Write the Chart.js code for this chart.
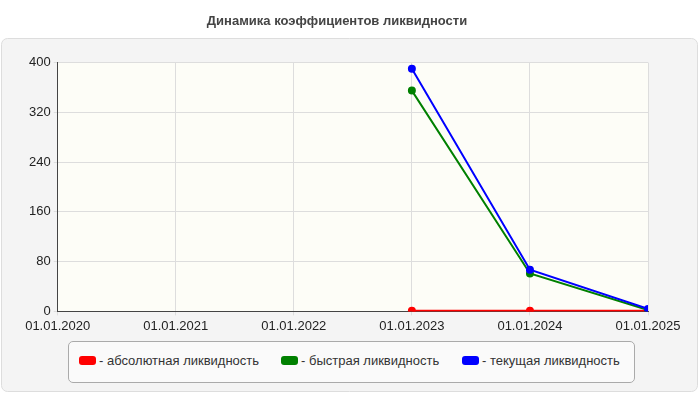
<!DOCTYPE html>
<html><head><meta charset="utf-8">
<script src="https://cdn.jsdelivr.net/npm/chart.js@4"></script>
<style>
body{margin:0;background:#fff;font-family:"Liberation Sans",Arial,sans-serif}
#wrap{position:relative;width:700px;height:400px}
#leg{position:absolute;left:68px;top:341px;width:565px;height:40px;border:1px solid #aaa;border-radius:5px;background:#fafafa;font-size:13px;color:#333}
.it{position:absolute;top:11px;display:flex;align-items:center}
.sw{width:17px;height:9px;border-radius:3px;margin-right:3px}
</style></head><body>
<div id="wrap"><canvas id="c" width="700" height="400"></canvas>
<div id="leg"></div></div>
<script>
const categories=['01.01.2020','01.01.2021','01.01.2022','01.01.2023','01.01.2024','01.01.2025'];
const absolute=[null,null,null,1,1,1];
const quick=[null,null,null,355,61,2];
const current=[null,null,null,390,67,4];
const names=['- абсолютная ликвидность','- быстрая ликвидность','- текущая ликвидность'];
const colors=['#ff0000','#008000','#0000ff'];
const legX=[10,212,393];
Chart.defaults.font.family='"Liberation Sans", Arial, sans-serif';
const leg=document.getElementById('leg');
names.forEach((n,i)=>{const d=document.createElement('div');d.className='it';d.style.left=legX[i]+'px';d.innerHTML='<span class="sw" style="background:'+colors[i]+'"></span>'+n;leg.appendChild(d);});
const bg={id:'bg',beforeDraw(ch){const c=ch.ctx;c.save();c.fillStyle='#f4f4f4';c.strokeStyle='#ddd';c.beginPath();c.roundRect(1.5,38.5,696,353,6);c.fill();c.stroke();
const a=ch.chartArea;c.fillStyle='#fdfdf7';c.fillRect(a.left,a.top,a.right-a.left,a.bottom-a.top);c.restore();}};
const ds=(d,i)=>({data:d.map((v,k)=>({x:k,y:v})),borderColor:colors[i],backgroundColor:colors[i],borderWidth:2,pointRadius:3,spanGaps:false});
new Chart(document.getElementById('c'),{type:'line',
data:{datasets:[ds(absolute,0),ds(quick,1),ds(current,2)].reverse()},
options:{responsive:false,animation:false,
layout:{padding:{left:26,right:52,top:0,bottom:63}},
plugins:{legend:{display:false},tooltip:{enabled:false},
title:{display:true,text:'Динамика коэффициентов ликвидности',color:'#444',font:{size:13,weight:'bold'},padding:{top:14,bottom:33}}},
scales:{x:{type:'linear',min:0,max:5,ticks:{stepSize:1,color:'#222',font:{size:13},callback:v=>categories[v]},grid:{color:'#ddd',tickLength:4},border:{color:'#444'}},
y:{min:0,max:400,ticks:{stepSize:80,color:'#222',font:{size:13}},grid:{color:'#ddd',tickLength:4},border:{color:'#444'}}}}
,plugins:[bg]});
</script></body></html>
